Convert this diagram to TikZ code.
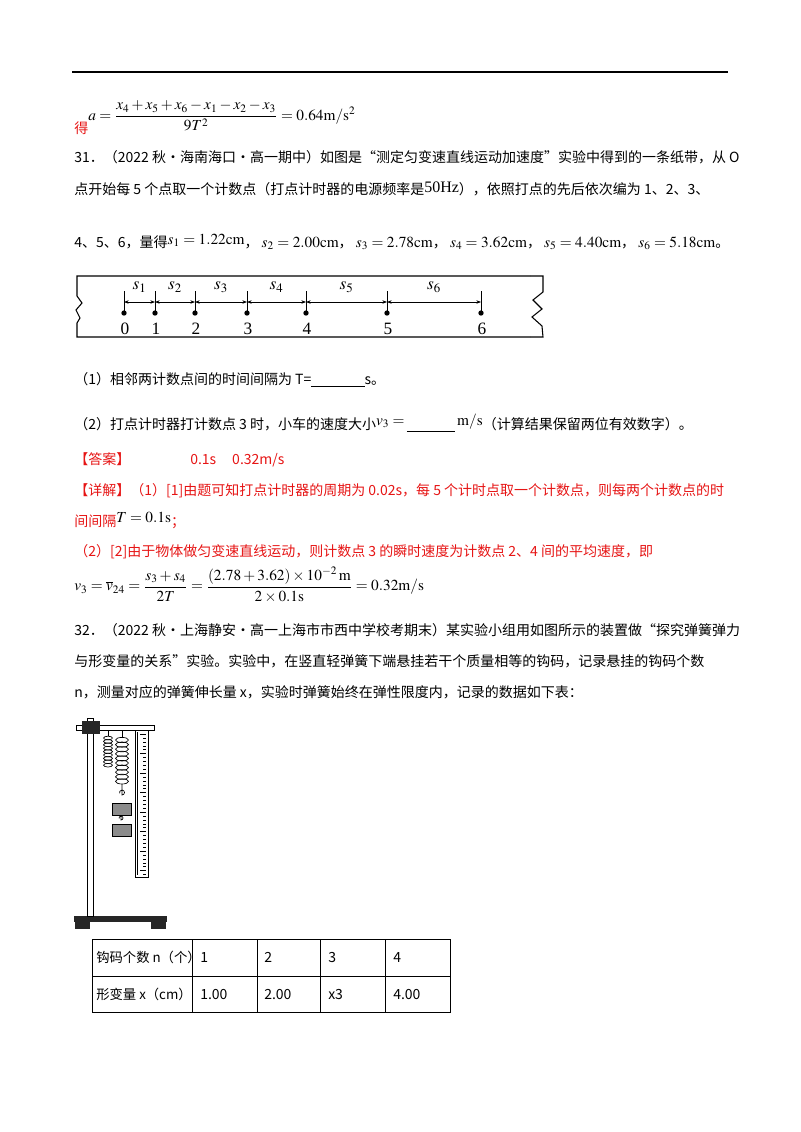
\documentclass[tikz,border=0pt]{standalone}
\usepackage{amsmath}
\usepackage{mathptmx}
\usepackage[no-math]{fontspec}
\setmainfont{Noto Sans CJK SC}
\newfontfamily\tnr{Liberation Serif}
\usetikzlibrary{arrows.meta}
\definecolor{ansred}{RGB}{230,20,20}
\newcommand{\mf}{\fontsize{11.5}{13}\selectfont}
\begin{document}
\begin{tikzpicture}[x=0.75pt,y=-0.75pt,
  txt/.style={anchor=west,inner sep=0pt,font=\fontsize{10.5}{12}\selectfont},
  red/.style={txt,text=ansred},
  tick/.style={line width=0.6pt},
  dim/.style={{Stealth[length=3.5pt]}-{Stealth[length=3.5pt]},line width=0.5pt},
  lab/.style={font=\tnr\fontsize{13}{13}\selectfont,inner sep=0pt}]
\useasboundingbox (0,0) rectangle (800,1132);
\draw[line width=1.2pt] (72,72) -- (728,72);
% top formula
\node[red] (de) at (74,128) {得};
\node[txt,font=\mf] (fa) at (88,116) {$a=\dfrac{x_4+x_5+x_6-x_1-x_2-x_3}{9T^{2}}=0.64\mathrm{m/s^2}$};
\node[txt] (l1) at (74,157) {31．（2022 秋·海南海口·高一期中）如图是“测定匀变速直线运动加速度”实验中得到的一条纸带，从 O};
\node[txt] (l2) at (74,189) {点开始每 5 个点取一个计数点（打点计时器的电源频率是{\tnr\fontsize{12}{12}\selectfont\raisebox{2pt}{50Hz}}），依照打点的先后依次编为 1、2、3、};
\node[txt] (l3) at (74,242) {4、5、6，量得{\mf\raisebox{2pt}{$s_1=1.22\mathrm{cm}$}}，\ {\mf $s_2=2.00\mathrm{cm}$}，\ {\mf $s_3=2.78\mathrm{cm}$}，\ {\mf $s_4=3.62\mathrm{cm}$}，\ {\mf $s_5=4.40\mathrm{cm}$}，\ {\mf $s_6=5.18\mathrm{cm}$}。};
% tape
\draw[line width=0.8pt] (530,276) -- (77,276) -- (77,296) -- (82,303) -- (76,310) -- (80,318) -- (77,323) -- (77,337) -- (530,337);
\draw[line width=0.8pt] (530,276) -- (543,276) -- (543,292) -- (533,300) -- (542,309) -- (532,317) -- (542,326) -- (543,337) -- (530,337);
\foreach \i/\x in {0/124,1/155,2/195,3/247,4/306,5/387,6/481}{
  \coordinate (t\i) at (\x,302);
  \draw[tick] (\x,291) -- (\x,313);
  \fill (\x,313) circle (2pt);
  \node[lab] (n\i) at (\x+1,329) {\i};
}
\foreach \a/\b/\k in {0/1/1,1/2/2,2/3/3,3/4/4,4/5/5,5/6/6}{
  \draw[dim] (t\a) -- (t\b);
  \path (t\a) -- (t\b) node[midway,lab,yshift=11pt] (s\k) {$s_{\k}$};
}
% questions
\node[txt] (q1) at (74,380) {（1）相邻两计数点间的时间间隔为 T=\underline{\hspace{40pt}}s。};
\node[txt] (q2) at (74,423) {（2）打点计时器打计数点 3 时，小车的速度大小{\mf\raisebox{3pt}{$v_3=$}}\,\underline{\hspace{36pt}}\,{\mf\raisebox{3pt}{$\mathrm{m/s}$}}（计算结果保留两位有效数字）。};
\node[red] (ans) at (74,460) {【答案】\hspace{45pt}0.1s\hspace{12pt}0.32m/s};
\node[red] (xj) at (74,491) {【详解】（1）[1]由题可知打点计时器的周期为 0.02s，每 5 个计时点取一个计数点，则每两个计数点的时};
\node[red] (xj2) at (74,520) {间间隔\textcolor{black}{\mf\raisebox{3pt}{$T=0.1\mathrm{s}$}}；};
\node[red] (xj3) at (74,552) {（2）[2]由于物体做匀变速直线运动，则计数点 3 的瞬时速度为计数点 2、4 间的平均速度，即};
\node[txt,font=\mf] (fv) at (74,585) {$v_3=\overline{v}_{24}=\dfrac{s_3+s_4}{2T}=\dfrac{\left(2.78+3.62\right)\times10^{-2}\,\mathrm{m}}{2\times0.1\mathrm{s}}=0.32\mathrm{m/s}$};
\node[txt] (p1) at (74,630) {32．（2022 秋·上海静安·高一上海市市西中学校考期末）某实验小组用如图所示的装置做“探究弹簧弹力};
\node[txt] (p2) at (74,661) {与形变量的关系”实验。实验中，在竖直轻弹簧下端悬挂若干个质量相等的钩码，记录悬挂的钩码个数};
\node[txt] (p3) at (74,692) {n，测量对应的弹簧伸长量 x，实验时弹簧始终在弹性限度内，记录的数据如下表：};
% apparatus
\fill[black!85] (74,916) rectangle (167,922);
\fill[black!85] (75,922) rectangle (90,929);
\fill[black!85] (151,922) rectangle (166,929);
\draw[line width=0.5pt,fill=white] (87,718) rectangle (93,916);
\draw[line width=0.5pt,fill=white] (76,725) rectangle (154,730);
\fill[black!85] (82,721) rectangle (100,734);
\draw[line width=0.5pt,fill=white] (135,730) rectangle (148,877);
\foreach \k in {0,...,36}{
  \pgfmathsetmacro{\yy}{734+\k*3.9}
  \pgfmathsetmacro{\ll}{ifthenelse(mod(\k,5)==0,6,3)}
  \draw[line width=0.3pt] (146-\ll,\yy) -- (146,\yy);
}
\draw[line width=0.3pt] (137,732) -- (137,875);
\draw[line width=0.5pt] (108,730) -- (108,736);
\foreach \k in {0,...,8}{\draw[line width=0.5pt] (108,738+\k*3.4) ellipse (4.5 and 1.8);}
\draw[line width=0.5pt] (122,730) -- (122,737);
\foreach \k in {0,...,9}{\draw[line width=0.5pt] (122,740+\k*4.6) ellipse (6.5 and 2.6);}
\draw[line width=0.5pt] (122,784) -- (122,795) arc (90:-200:2.5);
\draw[line width=0.4pt,fill=black!45] (112,803) rectangle (131,815);
\draw[line width=0.5pt] (121,815) -- (121,820) arc (90:-200:2);
\draw[line width=0.4pt,fill=black!45] (112,824) rectangle (131,836);
% table
\draw[line width=0.6pt] (92,939) rectangle (450,1012);
\draw[line width=0.6pt] (92,976) -- (450,976);
\foreach \x in {192,257,320,385}{\draw[line width=0.6pt] (\x,939) -- (\x,1012);}
\node[txt,font=\fontsize{10}{12}\selectfont] (c00) at (96,957) {钩码个数 n（个）};
\node[txt,font=\fontsize{10}{12}\selectfont] (c10) at (96,994) {形变量 x（cm）};
\node[txt] (c01) at (200,957) {1};
\node[txt] (c02) at (264,957) {2};
\node[txt] (c03) at (328,957) {3};
\node[txt] (c04) at (393,957) {4};
\node[txt] (c11) at (200,994) {1.00};
\node[txt] (c12) at (264,994) {2.00};
\node[txt] (c13) at (328,994) {x3};
\node[txt] (c14) at (393,994) {4.00};
\end{tikzpicture}
\end{document}
